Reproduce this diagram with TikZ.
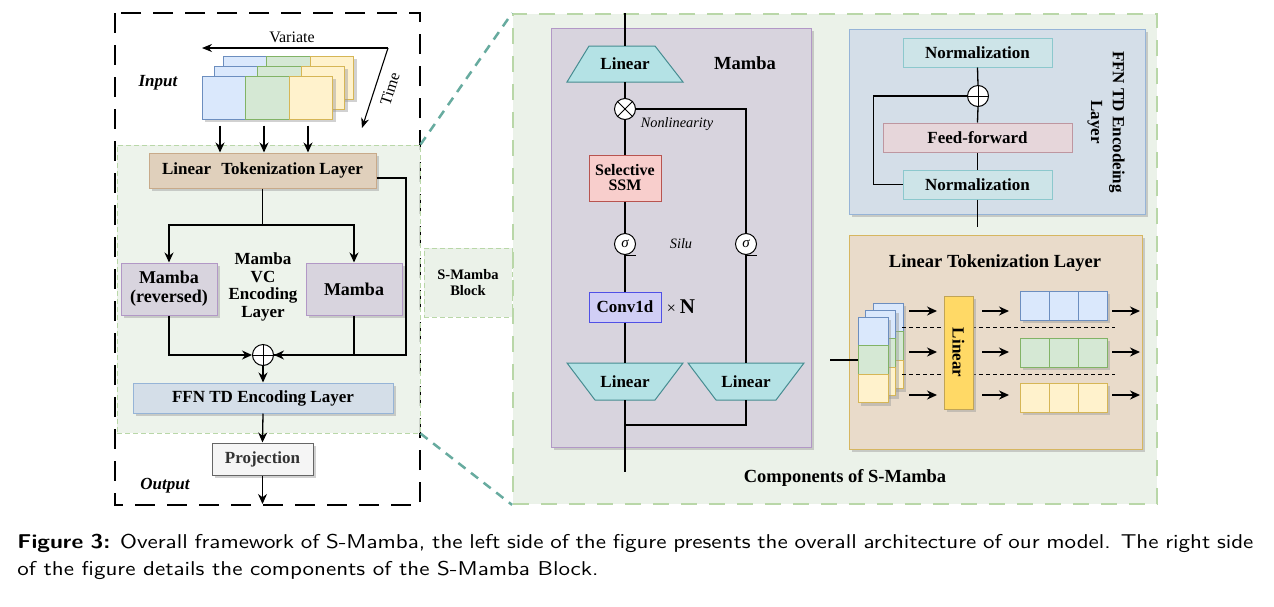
\documentclass[tikz,border=0pt]{standalone}
\usepackage{fontspec}
\setmainfont{Liberation Serif}
\usetikzlibrary{arrows.meta,shadows}
\definecolor{greenbg}{RGB}{235,242,233}
\definecolor{greenbd}{RGB}{185,215,168}
\definecolor{tealdash}{RGB}{103,171,159}
\definecolor{mambaf}{RGB}{216,212,222}
\definecolor{mambad}{RGB}{178,152,198}
\definecolor{tokf}{RGB}{224,208,188}
\definecolor{tokd}{RGB}{200,170,138}
\definecolor{ffnf}{RGB}{212,222,232}
\definecolor{ffnd}{RGB}{150,180,215}
\definecolor{projf}{RGB}{245,245,245}
\definecolor{projd}{RGB}{102,102,102}
\definecolor{projt}{RGB}{51,51,51}
\definecolor{linf}{RGB}{180,226,229}
\definecolor{lind}{RGB}{70,140,145}
\definecolor{ssmf}{RGB}{248,206,204}
\definecolor{ssmd}{RGB}{184,84,80}
\definecolor{convf}{RGB}{208,206,245}
\definecolor{convd}{RGB}{80,80,230}
\definecolor{normf}{RGB}{205,228,232}
\definecolor{normd}{RGB}{140,200,205}
\definecolor{fff}{RGB}{230,214,218}
\definecolor{ffd}{RGB}{190,150,160}
\definecolor{ltf}{RGB}{233,219,202}
\definecolor{ltd}{RGB}{214,182,96}
\definecolor{yellin}{RGB}{255,217,102}
\definecolor{bluef}{RGB}{218,232,252}
\definecolor{blued}{RGB}{108,142,191}
\definecolor{greenf}{RGB}{213,232,212}
\definecolor{greend}{RGB}{130,179,102}
\definecolor{yelf}{RGB}{255,242,204}
\definecolor{yeld}{RGB}{214,182,86}
\tikzset{
  txt/.style={font=\fontsize{17}{18}\selectfont\bfseries, align=center, inner sep=1pt},
  shad/.style={drop shadow={shadow xshift=3pt,shadow yshift=-3pt,fill=black!40,opacity=.45}},
  box/.style={txt, draw, line width=1pt, shad},
  sq/.style={draw, line width=1pt, minimum width=43.5pt, minimum height=43pt, inner sep=0pt, shad},
  tok/.style={draw, line width=1pt, minimum width=30pt, minimum height=28.5pt, inner sep=0pt, shad},
  tokb/.style={draw, line width=1pt, minimum width=29pt, minimum height=29pt, inner sep=0pt, shad},
  circ/.style={circle, draw, line width=1pt, fill=white, minimum size=21pt, inner sep=0pt},
  conn/.style={line width=1.3pt},
  arr/.style={line width=1.3pt, -{Stealth[length=10pt,width=9pt]}},
  trap/.style={draw=lind, fill=linf, line width=1pt},
  capt/.style={anchor=base west, inner sep=0pt, font=\sffamily\fontsize{10}{14}\selectfont, xscale=2.3, yscale=2.0, transform shape},
}
\begin{document}
\begin{tikzpicture}[x=1pt,y=-1pt]
\useasboundingbox[fill=white] (0,0) rectangle (1274,606);

% ---------- left overall frame ----------
\draw[line width=2pt, dash pattern=on 20pt off 12pt] (115,13) rectangle (420,505);

% S-Mamba block region (left)
\node[draw=greenbd, fill=greenbg, fill opacity=.88, line width=1pt, dash pattern=on 5pt off 3pt,
      minimum width=303pt, minimum height=288pt] (blk) at (268.5,289) {};

% ---------- right big panel ----------
\node[draw=greenbd, fill=greenbg, line width=1.8pt, dash pattern=on 16pt off 12pt,
      minimum width=644pt, minimum height=490pt] (comp) at (835,259) {};

\draw[tealdash, line width=2.5pt, dash pattern=on 9pt off 7pt] (blk.north east) -- (comp.north west);
\draw[tealdash, line width=2.5pt, dash pattern=on 9pt off 7pt] (blk.south east) -- (comp.south west);

\node[draw=greenbd, fill=greenbg, line width=1pt, dash pattern=on 5pt off 3pt,
      minimum width=88pt, minimum height=69pt, font=\fontsize{14.5}{16.7}\selectfont\bfseries, align=center] (sb) at (468,282.5) {S-Mamba\\Block};

% ---------- input ----------
\foreach \dx/\dy/\l in {21/-20/c, 12/-10/b, 0/0/a}{
  \node[sq, fill=bluef, draw=blued] (in\l1) at (224+\dx,97.5+\dy) {};
  \node[sq, fill=greenf, draw=greend] (in\l2) at (267.5+\dx,97.5+\dy) {};
  \node[sq, fill=yelf, draw=yeld] (in\l3) at (311+\dx,97.5+\dy) {};
}
\coordinate (tc) at (388,48);
\coordinate (vend) at (202,48);
\coordinate (tend) at (362,128);
\draw[line width=1.1pt, -{Stealth[length=10pt,width=8pt]}] (tc) -- (vend);
\draw[line width=1.1pt, -{Stealth[length=10pt,width=8pt]}] (tc) -- (tend);
\node[font=\fontsize{16}{18}\selectfont, inner sep=0pt] (var) at (292,37) {Variate};
\node[font=\fontsize{16}{18}\selectfont, inner sep=0pt, rotate=72] (tim) at (390,89) {Time};
\node[font=\fontsize{17}{18}\selectfont\bfseries\itshape, inner sep=0pt] (inl) at (158,83) {Input};
\node[font=\fontsize{17}{18}\selectfont\bfseries\itshape, inner sep=0pt] (outl) at (165,486) {Output};

% ---------- left pipeline ----------
\node[box, fill=tokf, draw=tokd, minimum width=227pt, minimum height=35pt] (ltl) at (262.5,170.5) {Linear\hspace{0.35em} Tokenization Layer};
\draw[arr] ([xshift=-4pt,yshift=-6pt]ina1.south) -- ([xshift=-4pt]ina1.south |- ltl.north);
\draw[arr] ([xshift=-3.5pt,yshift=-6pt]ina2.south) -- ([xshift=-3.5pt]ina2.south |- ltl.north);
\draw[arr] ([xshift=-3pt,yshift=-6pt]ina3.south) -- ([xshift=-3pt]ina3.south |- ltl.north);

\node[box, fill=mambaf, draw=mambad, minimum width=96pt, minimum height=52pt, font=\fontsize{18}{19}\selectfont\bfseries] (mr) at (169,289) {Mamba\\(reversed)};
\node[box, fill=mambaf, draw=mambad, minimum width=96pt, minimum height=52pt, font=\fontsize{18}{19}\selectfont\bfseries] (mm) at (354,289) {Mamba};
\node[txt, font=\fontsize{17}{17.5}\selectfont\bfseries] (mvc) at (263,287) {Mamba\\VC\\Encoding\\Layer};

\coordinate (split) at (262.5,225);
\draw[conn] (ltl.south) -- (split);
\draw[arr] (split) -| (mr.north);
\draw[arr] (split) -| (mm.north);

\node[circ] (pl) at (263,355) {};
\draw[line width=1pt] (pl.north) -- (pl.south) (pl.west) -- (pl.east);
\draw[arr] (mr.south) |- (pl.west);
\draw[conn] (mm.south) |- (pl.east);
\coordinate (sk1) at (406,178);
\coordinate (sk2) at (406,355);
\draw[arr] ([yshift=-7.5pt]ltl.east) -- (sk1) -- (sk2) -- (pl.east);

\node[box, fill=ffnf, draw=ffnd, minimum width=260pt, minimum height=30pt] (ffnl) at (263,398) {FFN TD Encoding Layer};
\draw[arr] (pl.south) -- (ffnl.north);
\node[box, fill=projf, draw=projd, text=projt, minimum width=101pt, minimum height=32pt] (proj) at (262.5,459) {Projection};
\draw[arr] (ffnl.south) -- (proj.north);
\coordinate (outc) at (262.5,504);
\draw[arr] (proj.south) -- (outc);

% ---------- Mamba panel ----------
\node[draw=mambad, fill=mambaf, line width=1pt, shad, minimum width=260pt, minimum height=419pt] (mp) at (681,237.5) {};
\coordinate (mtop) at (625,13);
\fill[trap] (589,46) -- (655,46) -- (683,82) -- (567,82) -- cycle;
\node[txt, minimum width=116pt, minimum height=36pt] (tl) at (625,64) {Linear};
\node[font=\fontsize{18.5}{20}\selectfont\bfseries, inner sep=0pt] (mlab) at (745,63) {Mamba};
\node[circ] (mul) at (625,109) {};
\draw[line width=1pt] (mul.north west) -- (mul.south east) (mul.north east) -- (mul.south west);
\node[font=\fontsize{14.3}{16}\selectfont\itshape, inner sep=0pt] (nl) at (677,124) {Nonlinearity};
\node[txt, draw=ssmd, fill=ssmf, line width=1pt, minimum width=72pt, minimum height=46pt, font=\fontsize{16}{15}\selectfont\bfseries] (ssm) at (625,178) {Selective\\SSM};
\node[circ, font=\fontsize{15}{16}\selectfont\itshape] (s1) at (625,244) {σ};
\node[circ, font=\fontsize{15}{16}\selectfont\itshape] (s2) at (746,244) {σ};
\draw[line width=1pt] (s1.south) -- ++(11,0);
\draw[line width=1pt] (s2.south) -- ++(11,0);
\node[font=\fontsize{14.3}{16}\selectfont\itshape, inner sep=0pt] (silu) at (681,244) {Silu};
\node[txt, draw=convd, fill=convf, line width=1pt, minimum width=72pt, minimum height=30pt] (conv) at (625,307) {Conv1d};
\node[inner sep=0pt, font=\fontsize{16}{18}\selectfont] (xn) at (681,307) {× \fontsize{21}{22}\selectfont\bfseries N};
\fill[trap] (567,363) -- (683,363) -- (655,400) -- (595,400) -- cycle;
\node[txt, minimum width=116pt, minimum height=37pt] (bl) at (625,381.5) {Linear};
\fill[trap] (688,363) -- (804,363) -- (776,400) -- (716,400) -- cycle;
\node[txt, minimum width=116pt, minimum height=37pt] (br) at (746,381.5) {Linear};
\coordinate (mj) at (625,425);
\coordinate (mbot) at (625,472);
\draw[conn] (mtop) -- (tl.north);
\draw[conn] (tl.south) -- (mul.north);
\draw[conn] (mul.south) -- (ssm.north);
\draw[conn] (ssm.south) -- (s1.north);
\draw[conn] (s1.south) -- (conv.north);
\draw[conn] (conv.south) -- (bl.north);
\draw[conn] (mul.east) -| (s2.north);
\draw[conn] (s2.south) -- (br.north);
\draw[conn] (br.south) |- (mj);
\draw[conn] (bl.south) -- (mbot);
\node[font=\fontsize{18.5}{20}\selectfont\bfseries, inner sep=0pt] (compl) at (845,478) {Components of S-Mamba};

% ---------- FFN panel ----------
\node[draw=ffnd, fill=ffnf, line width=1pt, shad, minimum width=296pt, minimum height=185pt] (fp) at (997,121.5) {};
\node[txt, draw=normd, fill=normf, line width=1pt, minimum width=149pt, minimum height=29pt] (n1) at (977.5,52.5) {Normalization};
\node[circ] (pl2) at (978,96) {};
\draw[line width=1pt] (pl2.north) -- (pl2.south) (pl2.west) -- (pl2.east);
\node[txt, draw=ffd, fill=fff, line width=1pt, minimum width=189pt, minimum height=29pt] (ffw) at (977.5,137.5) {Feed-forward};
\node[txt, draw=normd, fill=normf, line width=1pt, minimum width=149pt, minimum height=29pt] (n2) at (977.5,184.5) {Normalization};
\coordinate (fpout) at (977.5,227);
\draw[conn] (n2.south) -- (fpout);
\draw[conn] (n2.north) -- (ffw.south);
\draw[conn] (ffw.north) -- (pl2.south);
\draw[conn] (pl2.north) -- (n1.south);
\draw[conn] (n2.west) -- ++(-29,0) |- (pl2.west);
\node[font=\fontsize{17}{21.7}\selectfont\bfseries, align=center, rotate=-90, inner sep=0pt] (ffnlab) at (1106,122) {FFN TD Encodeing\\Layer};

% ---------- Linear tokenization panel ----------
\node[draw=ltd, fill=ltf, line width=1pt, shad, minimum width=293pt, minimum height=214pt] (ltp) at (995.5,342) {};
\node[font=\fontsize{18.5}{20}\selectfont\bfseries, inner sep=0pt] (ltt) at (995,263) {Linear Tokenization Layer};
\foreach \dx/\dy/\l in {15/-14/c, 7.5/-7/b, 0/0/a}{
  \node[tok, fill=bluef, draw=blued] (st\l1) at (873+\dx,331.5+\dy) {};
  \node[tok, fill=greenf, draw=greend] (st\l2) at (873+\dx,360+\dy) {};
  \node[tok, fill=yelf, draw=yeld] (st\l3) at (873+\dx,388.5+\dy) {};
}
\coordinate (ltin) at (830,360);
\draw[conn] (ltin) -- (sta2.west);
\coordinate (dl1) at (902,327); \coordinate (dr1) at (1115,327);
\coordinate (dl2) at (902,374); \coordinate (dr2) at (1115,374);
\draw[line width=1pt, dash pattern=on 4pt off 3pt] (dl1) -- (dr1);
\draw[line width=1pt, dash pattern=on 4pt off 3pt] (dl2) -- (dr2);
\node[draw=ltd!90!black, fill=yellin, line width=1pt, shad, minimum width=29pt, minimum height=113pt, inner sep=0pt] (lin) at (958.5,352.5) {};
\node[txt, rotate=-90] (linl) at (lin.center) {Linear};
\foreach \y/\f/\d/\r in {305.5/bluef/blued/1, 352.5/greenf/greend/2, 397.5/yelf/yeld/3}{
  \foreach \x/\c in {1034.5/1,1063.5/2,1092.5/3}{
    \node[tokb, fill=\f, draw=\d] (ot\r\c) at (\x,\y) {};
  }
}
\foreach \y/\r in {311/1, 352/2, 395/3}{
  \coordinate (a\r) at (909,\y); \coordinate (b\r) at (937,\y);
  \coordinate (c\r) at (982,\y); \coordinate (d\r) at (1009,\y);
  \coordinate (e\r) at (1112,\y); \coordinate (f\r) at (1140,\y);
  \draw[arr] (a\r) -- (b\r);
  \draw[arr] (c\r) -- (d\r);
  \draw[arr] (e\r) -- (f\r);
}

% ---------- caption ----------
\node[capt] (cap1) at (17,548)
  {\makebox[537.4pt][s]{\textbf{Figure 3:} Overall framework of S-Mamba, the left side of the figure presents the overall architecture of our model. The right side}};
\node[capt] (cap2) at (17,575)
  {of the figure details the components of the S-Mamba Block.};
\end{tikzpicture}
\end{document}
